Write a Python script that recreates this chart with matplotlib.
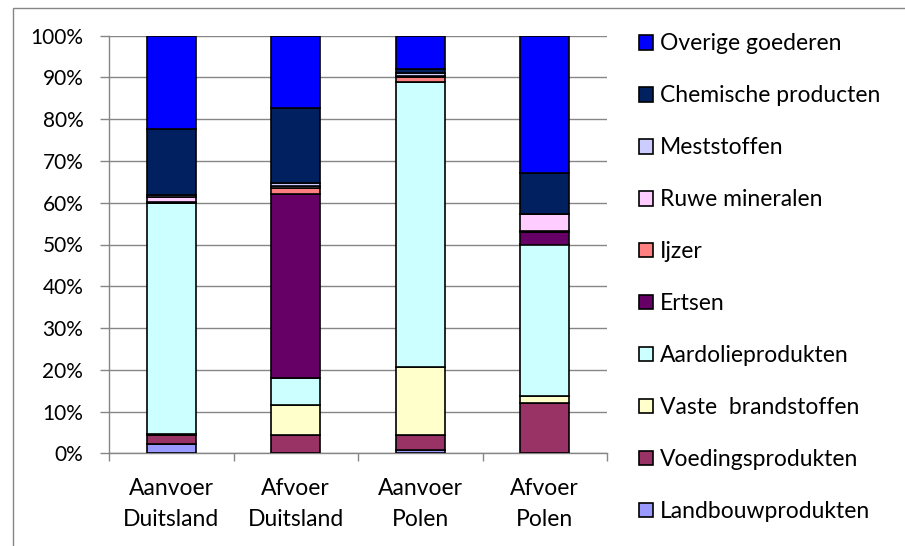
import matplotlib
matplotlib.use("Agg")
import matplotlib.pyplot as plt
from matplotlib.patches import Rectangle
import numpy as np

plt.rcParams['font.family'] = ['Lato', 'DejaVu Sans']

categories = ["Aanvoer\nDuitsland", "Afvoer\nDuitsland", "Aanvoer\nPolen", "Afvoer\nPolen"]

series_names = ["Landbouwprodukten", "Voedingsprodukten", "Vaste  brandstoffen",
                "Aardolieprodukten", "Ertsen", "Ijzer", "Ruwe mineralen",
                "Meststoffen", "Chemische producten", "Overige goederen"]

landbouw = [2.2, 0.1, 0.8, 0.0]
voeding = [2.3, 4.3, 3.6, 12.0]
vaste = [0.1, 7.2, 16.3, 1.8]
aardolie = [55.3, 6.4, 68.3, 36.2]
ertsen = [0.1, 44.0, 0.0, 3.1]
ijzer = [0.1, 1.5, 1.0, 0.1]
ruwe = [1.3, 0.5, 0.4, 4.0]
mest = [0.5, 0.7, 0.6, 0.0]
chemisch = [15.7, 17.9, 1.0, 10.0]
overige = [22.4, 17.4, 8.0, 32.8]

colors = ["#9999FF", "#993366", "#FFFFCC", "#CCFFFF", "#660066",
          "#FF8080", "#FFCCFF", "#CCCCFF", "#002060", "#0000FF"]

data = [landbouw, voeding, vaste, aardolie, ertsen, ijzer, ruwe, mest, chemisch, overige]

W, H = 905, 546
fig = plt.figure(figsize=(W / 100, H / 100), dpi=100)
# plot area in pixels: left 109, right 607, top 35.7, bottom 453.3
ax = fig.add_axes([109 / W, 1 - 453.3 / H, (607 - 109) / W, (453.3 - 35.7) / H])

# chart area border
fig.patches.append(Rectangle((13 / W, -0.05), 1.0, 1 - 8 / H + 0.05, transform=fig.transFigure,
                             fill=False, edgecolor="#868686", linewidth=1.0))

x = np.arange(len(categories))
totals = np.sum(np.array(data), axis=0)
bottom = np.zeros(len(categories))
handles = []
for name, vals, c in zip(series_names, data, colors):
    v = np.array(vals) / totals * 100
    b = ax.bar(x, v, bottom=bottom, width=0.39, color=c, edgecolor="black",
               linewidth=1.2, label=name, zorder=3)
    handles.append(b)
    bottom += v

ax.set_xlim(-0.5, len(categories) - 0.5)
ax.set_ylim(0, 100)
ax.set_yticks(np.arange(0, 101, 10))
ax.set_yticklabels([f"{v}%" for v in range(0, 101, 10)])
ax.yaxis.grid(True, color="#868686", linewidth=1.0, zorder=0)
ax.set_axisbelow(True)

ax.set_xticks(x)
ax.set_xticklabels(categories, linespacing=1.55)
ax.set_xticks(np.arange(-0.5, len(categories)), minor=True)
ax.tick_params(axis="x", which="major", length=0, pad=18, labelsize=16.5)
ax.tick_params(axis="x", which="minor", length=6, color="#868686", width=1.0)
ax.tick_params(axis="y", length=6.5, color="#868686", width=1.0, pad=12, labelsize=15)

for s in ["top", "right"]:
    ax.spines[s].set_visible(False)
for s in ["left", "bottom"]:
    ax.spines[s].set_color("#868686")
    ax.spines[s].set_linewidth(1.0)

leg = fig.legend(handles[::-1], series_names[::-1], loc="upper left",
                 bbox_to_anchor=(639 / W, 1 - 33.5 / H), frameon=False,
                 fontsize=16.5, handlelength=0.6, handleheight=0.6,
                 handletextpad=0.3, labelspacing=1.35, borderpad=0, borderaxespad=0)
for p in leg.get_patches():
    p.set_linewidth(1.2)

fig.savefig("out.png", dpi=100)
